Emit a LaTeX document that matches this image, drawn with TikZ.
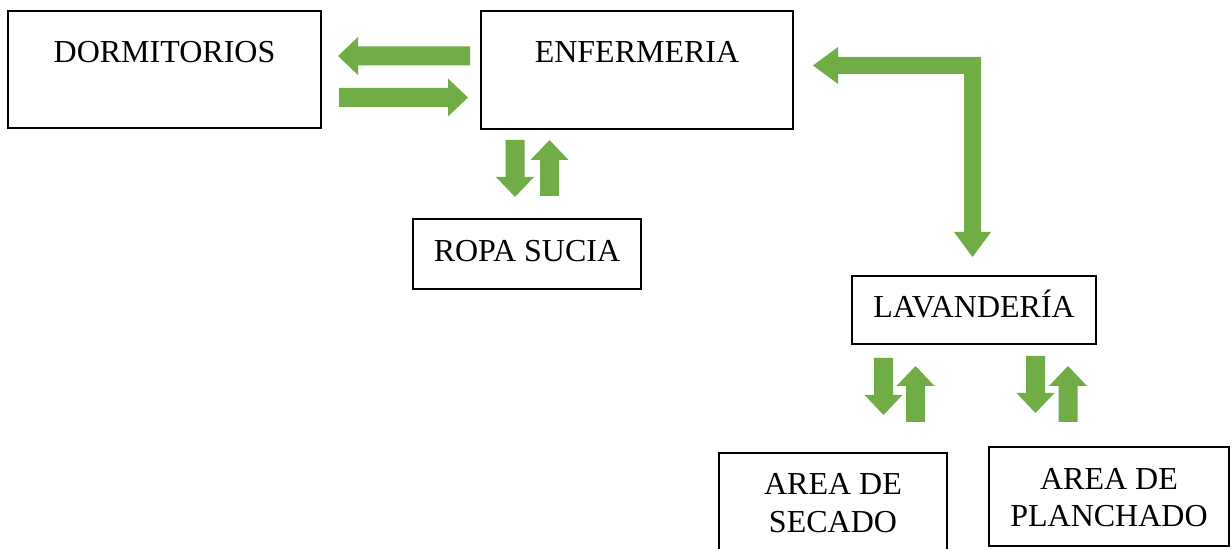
\documentclass[tikz,border=0pt]{standalone}
\usepackage{fontspec}
\setmainfont{Liberation Serif}
\begin{document}
\begin{tikzpicture}[x=1bp,y=-1bp,
  box/.style={draw=black,line width=2.6bp,inner sep=0pt,fill=white},
  lbl/.style={inner sep=0pt,font=\fontsize{32bp}{38bp}\selectfont,align=center},
  flow/.style={fill=arrowgreen,draw=none}]
\definecolor{arrowgreen}{HTML}{70AD47}
\useasboundingbox (0,0) rectangle (1232,549);

% block arrows: tail, tip, shaft axis
\newcommand\arrowH[3]{% horizontal: tail x, tip x, centre y
  \pgfmathsetmacro\hb{#2+((#1<#2)?-20:20)}
  \fill[flow] (#1,{#3-9.5}) -- (\hb,{#3-9.5}) -- (\hb,{#3-19}) -- (#2,#3)
    -- (\hb,{#3+19}) -- (\hb,{#3+9.5}) -- (#1,{#3+9.5}) -- cycle;}
\newcommand\arrowV[3]{% vertical: tail y, tip y, centre x
  \pgfmathsetmacro\hb{#2+((#1<#2)?-20:20)}
  \fill[flow] ({#3-9.5},#1) -- ({#3-9.5},\hb) -- ({#3-19},\hb) -- (#3,#2)
    -- ({#3+19},\hb) -- ({#3+9.5},\hb) -- ({#3+9.5},#1) -- cycle;}

% rooms
\node[box,minimum width=313bp,minimum height=117bp] (dorm) at (164.5,69.5) {};
\node[lbl,anchor=base] (dormtxt) at (164.5,63) {DORMITORIOS};

\node[box,minimum width=312bp,minimum height=118bp] (enf) at (637,70) {};
\node[lbl,anchor=base] (enftxt) at (637,63) {ENFERMERIA};

\node[box,minimum width=228bp,minimum height=70bp] (ropa) at (527,254) {};
\node[lbl,anchor=base] (ropatxt) at (527,262) {ROPA SUCIA};

\node[box,minimum width=244bp,minimum height=68bp] (lav) at (974,310) {};
\node[lbl,anchor=base] (lavtxt) at (974,318) {LAVANDERÍA};

\node[box,minimum width=228bp,minimum height=110bp] (sec) at (833,508) {};
\node[lbl,anchor=base] (sectxt1) at (833,494) {AREA DE};
\node[lbl,anchor=base] (sectxt2) at (833,532) {SECADO};

\node[box,minimum width=240bp,minimum height=99bp] (plan) at (1109,496.5) {};
\node[lbl,anchor=base] (plantxt1) at (1109,489) {AREA DE};
\node[lbl,anchor=base] (plantxt2) at (1109,526) {PLANCHADO};

% dormitorios <-> enfermeria
\arrowH{470}{338}{56}
\arrowH{339}{468}{97.5}

% enfermeria <-> ropa sucia
\arrowV{140}{197}{515}
\arrowV{196}{140}{549.5}

% enfermeria <-> lavanderia (elbow)
\fill[flow] (838,57) -- (981,57) -- (981,232) -- (991,232) -- (972.5,257)
  -- (954,232) -- (964,232) -- (964,74) -- (838,74) -- (838,84)
  -- (813,65.5) -- (838,47) -- cycle;

% lavanderia <-> secado
\arrowV{358}{415}{883.5}
\arrowV{422}{366}{915.5}

% lavanderia <-> planchado
\arrowV{356}{413}{1035.5}
\arrowV{422}{366}{1068}
\end{tikzpicture}
\end{document}
